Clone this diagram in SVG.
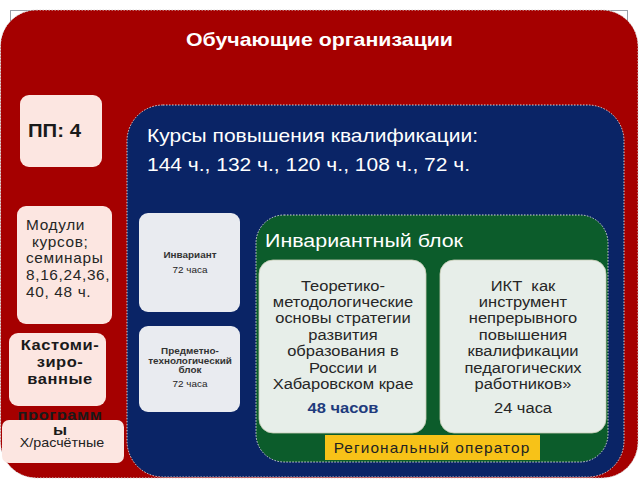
<svg xmlns="http://www.w3.org/2000/svg" width="640" height="480" viewBox="0 0 640 480">
<style>
text{font-family:"Liberation Sans",Arial,sans-serif}
.dot{stroke:#d8d8d8;stroke-width:1;stroke-dasharray:1.5 1.5}
.pink{fill:#FCE6E1}
.grey{fill:#E9EBF0}
.card{fill:#E7EEE9;stroke:#c9cdb6;stroke-width:0.8}
.wh{fill:#ffffff}
.sm{font-size:9px;fill:#333;text-anchor:middle}
.smh{font-size:9px;fill:#222;text-anchor:middle}
.cd{font-size:15px;fill:#262626;text-anchor:middle}
.cdb{font-size:15px;fill:#1F3B7D;text-anchor:middle;font-weight:bold}
</style>
<rect x="10.5" y="10.5" width="617" height="455" fill="none" stroke="#9aa0a8" stroke-width="1"/>
<g id="outer">
<rect x="0.5" y="10" width="637.5" height="468" rx="36" fill="#A50000" class="dot"/>
<text class="wh" font-size="19" font-weight="bold" x="186" y="46" textLength="267" lengthAdjust="spacingAndGlyphs">Обучающие организации</text>
</g>
<g id="pp">
<rect x="20" y="95" width="82" height="72" rx="9" class="pink"/>
<text transform="matrix(1.1 0 0 1 28 137)" font-size="18.5" font-weight="bold" fill="#1a1a1a">ПП: 4</text>
</g>
<g id="modules">
<rect x="17" y="206" width="95" height="118" rx="9" class="pink"/>
<g transform="matrix(1.1 0 0 1 26 0)" font-size="14" letter-spacing="0.6" fill="#262626">
<text x="0" y="230">Модули</text>
<text x="5.5" y="247">курсов;</text>
<text x="0" y="263">семинары</text>
<text x="0" y="280">8,16,24,36,</text>
<text x="0" y="297">40, 48 ч.</text>
</g>
</g>
<g id="custom">
<rect x="9" y="333" width="97" height="73" rx="9" class="pink"/>
<g transform="matrix(1.1 0 0 1 60 0)" font-size="15" font-weight="bold" letter-spacing="0.5" fill="#1a1a1a" text-anchor="middle">
<text x="0" y="350">Кастоми-</text>
<text x="0" y="367">зиро-</text>
<text x="0" y="384">ванные</text>
<text x="0" y="420">программ</text>
</g>
</g>
<g id="calc">
<rect x="2" y="420" width="122" height="43" rx="7" class="pink"/>
<text transform="matrix(1.1 0 0 1 60 0)" x="0" y="435" font-size="15" font-weight="bold" fill="#1a1a1a" text-anchor="middle">ы</text>
<text transform="matrix(1.1 0 0 1 62 0)" x="0" y="447" font-size="13" fill="#222" text-anchor="middle">Х/расчётные</text>
</g>
<g id="courses">
<rect x="127" y="105" width="497" height="372" rx="36" fill="#0A2466" class="dot"/>
<text class="wh" font-size="18.5" x="147" y="142" textLength="331" lengthAdjust="spacingAndGlyphs">Курсы повышения квалификации:</text>
<text class="wh" font-size="18.5" x="147" y="171" textLength="323" lengthAdjust="spacingAndGlyphs">144 ч., 132 ч., 120 ч., 108 ч., 72 ч.</text>
</g>
<g id="invariant">
<rect x="139" y="213" width="101" height="99" rx="9" class="grey"/>
<g transform="matrix(1.1 0 0 1 190 0)">
<text class="sm" x="0" y="258" font-weight="bold">Инвариант</text>
<text class="smh" x="0" y="273">72 часа</text>
</g>
</g>
<g id="subject">
<rect x="139" y="326" width="101" height="86" rx="9" class="grey"/>
<g transform="matrix(1.1 0 0 1 190 0)">
<text class="sm" x="0" y="354" font-weight="bold">Предметно-</text>
<text class="sm" x="0" y="364" font-weight="bold">технологический</text>
<text class="sm" x="0" y="373" font-weight="bold">блок</text>
<text class="smh" x="0" y="387">72 часа</text>
</g>
</g>
<g id="invariant-block">
<rect x="256" y="215" width="352" height="247" rx="28" fill="#0C5C2B" class="dot"/>
<text class="wh" font-size="17.5" x="265" y="247" textLength="198" lengthAdjust="spacingAndGlyphs">Инвариантный блок</text>
</g>
<g id="theory">
<rect x="259" y="260" width="167" height="173" rx="14" class="card"/>
<g transform="matrix(1.1 0 0 1 343 0)">
<text class="cd" x="0" y="291">Теоретико-</text>
<text class="cd" x="0" y="307">методологические</text>
<text class="cd" x="0" y="323">основы стратегии</text>
<text class="cd" x="0" y="340">развития</text>
<text class="cd" x="0" y="356">образования в</text>
<text class="cd" x="0" y="373">России и</text>
<text class="cd" x="0" y="389">Хабаровском крае</text>
<text class="cdb" x="0" y="413">48 часов</text>
</g>
</g>
<g id="ict">
<rect x="440" y="260" width="166" height="173" rx="14" class="card"/>
<g transform="matrix(1.1 0 0 1 523 0)">
<text class="cd" x="0" y="291" style="white-space:pre">ИКТ  как</text>
<text class="cd" x="0" y="307">инструмент</text>
<text class="cd" x="0" y="323">непрерывного</text>
<text class="cd" x="0" y="340">повышения</text>
<text class="cd" x="0" y="356">квалификации</text>
<text class="cd" x="0" y="373">педагогических</text>
<text class="cd" x="0" y="389">работников»</text>
<text class="cd" x="0" y="413">24 часа</text>
</g>
</g>
<g id="operator">
<rect x="325" y="435" width="215" height="25" fill="#F7C218"/>
<text transform="matrix(1.1 0 0 1 432 0)" x="0" y="453" font-size="14" letter-spacing="1" fill="#222" text-anchor="middle">Региональный оператор</text>
</g>
<g id="connectors"/>
</svg>
